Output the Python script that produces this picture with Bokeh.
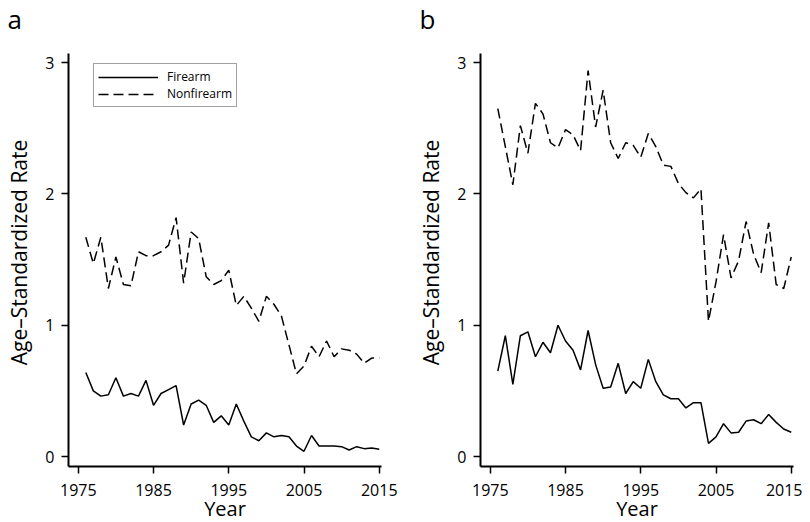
from bokeh.plotting import figure
from bokeh.layouts import row
from bokeh.models import Range1d, FixedTicker, Legend, LegendItem, ColumnDataSource
from bokeh.embed import file_html
from bokeh.resources import INLINE

# ---------------- data ----------------
years = list(range(1976, 2016))

a_firearm = [0.64, 0.50, 0.46, 0.47, 0.60, 0.46, 0.48, 0.46, 0.58, 0.39,
             0.48, 0.51, 0.54, 0.24, 0.40, 0.43, 0.39, 0.26, 0.31, 0.24,
             0.40, 0.27, 0.15, 0.12, 0.18, 0.15, 0.16, 0.15, 0.08, 0.04,
             0.16, 0.08, 0.08, 0.08, 0.075, 0.05, 0.075, 0.06, 0.065, 0.055]
a_nonfirearm = [1.67, 1.47, 1.67, 1.28, 1.52, 1.31, 1.30, 1.56, 1.53, 1.53,
                1.56, 1.61, 1.82, 1.32, 1.71, 1.66, 1.37, 1.31, 1.34, 1.42,
                1.15, 1.22, 1.13, 1.03, 1.22, 1.16, 1.07, 0.85, 0.63, 0.69,
                0.84, 0.76, 0.88, 0.76, 0.82, 0.81, 0.78, 0.71, 0.75, 0.75]
b_firearm = [0.65, 0.92, 0.55, 0.92, 0.95, 0.76, 0.87, 0.79, 1.00, 0.88,
             0.81, 0.66, 0.96, 0.70, 0.52, 0.53, 0.71, 0.48, 0.57, 0.52,
             0.74, 0.57, 0.47, 0.44, 0.44, 0.37, 0.41, 0.41, 0.10, 0.15,
             0.25, 0.18, 0.185, 0.27, 0.28, 0.25, 0.32, 0.26, 0.21, 0.185]
b_nonfirearm = [2.65, 2.36, 2.07, 2.52, 2.31, 2.69, 2.61, 2.39, 2.35, 2.49,
                2.45, 2.33, 2.94, 2.51, 2.79, 2.39, 2.27, 2.39, 2.37, 2.28,
                2.46, 2.36, 2.22, 2.21, 2.08, 2.01, 1.97, 2.04, 1.03, 1.33,
                1.69, 1.36, 1.49, 1.79, 1.54, 1.40, 1.78, 1.31, 1.28, 1.52]

x_ticks = [1975, 1985, 1995, 2005, 2015]
y_ticks = [0, 1, 2, 3]
panel_labels = ["a", "b"]
series_names = ["Firearm", "Nonfirearm"]
x_title = "Year"
y_title = "Age\u2013Standardized Rate"

FONT = "Open Sans"
Y_LO, Y_AXIS_TOP, Y_FRAME_TOP = -0.076, 3.07, 3.184


def make_panel(label, firearm, nonfirearm, left_border, right_border, show_legend):
    p = figure(frame_width=313, frame_height=428,
               x_range=Range1d(1973.7, 2015.3), y_range=Range1d(Y_LO, Y_FRAME_TOP),
               output_backend="svg", toolbar_location=None,
               min_border_left=left_border, min_border_right=right_border,
               min_border_top=37, min_border_bottom=57)
    p.outline_line_color = None
    p.background_fill_color = "white"
    p.border_fill_color = "white"
    p.xgrid.visible = False
    p.ygrid.visible = False

    # panel letter as the plot title, pushed to the left edge
    p.title.text = label
    p.title.text_font = FONT
    p.title.text_font_size = "26px"
    p.title.text_font_style = "normal"
    p.title.text_color = "black"
    p.title.align = "left"
    p.title.offset = -61
    p.title.vertical_align = "top"
    p.title.standoff = 0

    src = ColumnDataSource(dict(year=years, firearm=firearm, nonfirearm=nonfirearm))
    r1 = p.line("year", "firearm", source=src, line_color="black", line_width=1.5)
    r2 = p.line("year", "nonfirearm", source=src, line_color="black", line_width=1.5,
                line_dash="10 5")

    xax = p.below[0]
    yax = p.left[0]
    for ax in (xax, yax):
        ax.axis_line_color = "black"
        ax.axis_line_width = 2
        ax.major_tick_line_color = "black"
        ax.major_tick_line_width = 1.5
        ax.major_tick_in = 0
        ax.major_tick_out = 7
        ax.minor_tick_line_color = None
        ax.major_label_text_font = FONT
        ax.major_label_text_font_size = "16px"
        ax.major_label_text_color = "black"
        ax.axis_label_text_font = FONT
        ax.axis_label_text_font_style = "normal"
        ax.axis_label_text_color = "black"

    yax.bounds = (Y_LO, Y_AXIS_TOP)
    xax.axis_label_text_font_size = "20px"
    yax.axis_label_text_font_size = "21px"
    xax.ticker = FixedTicker(ticks=x_ticks)
    yax.ticker = FixedTicker(ticks=y_ticks)
    xax.axis_label = x_title
    yax.axis_label = y_title
    xax.major_label_standoff = 10
    xax.axis_label_standoff = -4
    yax.major_label_standoff = 7
    yax.axis_label_standoff = 9

    if show_legend:
        legend = Legend(items=[LegendItem(label=series_names[0], renderers=[r1]),
                               LegendItem(label=series_names[1], renderers=[r2])],
                        location=(25, 359))
        legend.label_text_font = FONT
        legend.label_text_font_size = "12px"
        legend.label_text_color = "black"
        legend.glyph_width = 60
        legend.glyph_height = 16
        legend.label_height = 16
        legend.label_standoff = 9
        legend.padding = 4
        legend.spacing = 0
        legend.margin = 0
        legend.border_line_color = "#444444"
        legend.border_line_width = 1.2
        legend.background_fill_color = "white"
        legend.background_fill_alpha = 1.0
        p.add_layout(legend, "center")
    return p


pa = make_panel(panel_labels[0], a_firearm, a_nonfirearm, 68, 24, True)
pb = make_panel(panel_labels[1], b_firearm, b_nonfirearm, 75, 9, False)

layout = row(pa, pb)
open("out.html", "w").write(file_html(layout, INLINE))
